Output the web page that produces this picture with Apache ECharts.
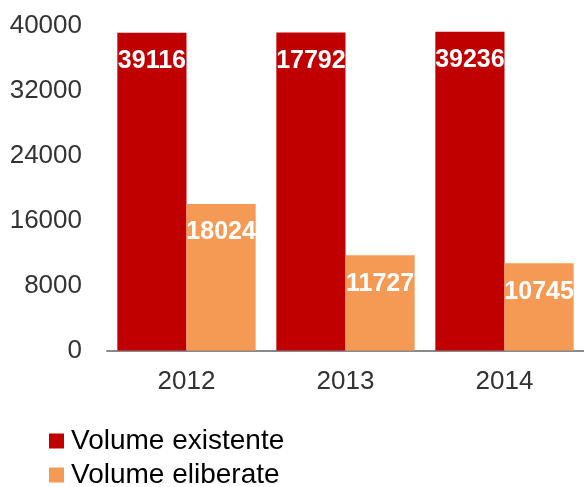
<!DOCTYPE html>
<html>
<head>
<meta charset="utf-8">
<script src="https://cdn.jsdelivr.net/npm/echarts@6/dist/echarts.min.js"></script>
<style>
html,body{margin:0;padding:0;background:#fff;}
#chart{width:584px;height:487px;}
</style>
</head>
<body>
<div id="chart"></div>
<script>
const categories = ['2012', '2013', '2014'];
const existenteValues = [39116, 39150, 39236];
const existenteLabels = ['39116', '17792', '39236'];
const eliberateValues = [18024, 11727, 10745];
const eliberateLabels = ['18024', '11727', '10745'];
const yTicks = [0, 8000, 16000, 24000, 32000, 40000];
const seriesNames = ['Volume existente', 'Volume eliberate'];

const FONT = '"Liberation Sans", Arial, sans-serif';
const chart = echarts.init(document.getElementById('chart'), null, {renderer: 'canvas'});

const labelStyle = (labels) => ({
  show: true,
  position: 'insideTop',
  distance: 16,
  color: '#ffffff',
  fontFamily: FONT,
  fontWeight: 'bold',
  fontSize: 25,
  formatter: (p) => labels[p.dataIndex]
});

const legendStyle = (name, top) => ({
  orient: 'vertical',
  left: 49,
  top: top,
  padding: 0,
  itemWidth: 15,
  itemHeight: 15,
  icon: 'rect',
  textStyle: {fontFamily: FONT, fontSize: 28, color: '#000000', lineHeight: 30, padding: [0, 0, 0, 2]},
  data: [name]
});

chart.setOption({
  animation: false,
  backgroundColor: '#ffffff',
  grid: {left: 107, right: -4, top: 25.5, bottom: 136.5},
  legend: [legendStyle(seriesNames[0], 426), legendStyle(seriesNames[1], 460)],
  xAxis: {
    type: 'category',
    data: categories,
    axisLine: {show: true, lineStyle: {color: '#898989', width: 2}},
    axisTick: {show: false},
    axisLabel: {fontFamily: FONT, fontSize: 26, color: '#333333', margin: 18}
  },
  yAxis: {
    type: 'value',
    min: yTicks[0],
    max: yTicks[yTicks.length - 1],
    interval: 8000,
    axisLine: {show: false},
    axisTick: {show: false},
    splitLine: {show: false},
    axisLabel: {fontFamily: FONT, fontSize: 26, color: '#333333', margin: 25, formatter: (v) => String(v)}
  },
  series: [
    {
      name: seriesNames[0],
      type: 'bar',
      data: existenteValues,
      itemStyle: {color: '#C00000'},
      barGap: '0%',
      barCategoryGap: '13%',
      label: labelStyle(existenteLabels)
    },
    {
      name: seriesNames[1],
      type: 'bar',
      data: eliberateValues,
      itemStyle: {color: '#F59A55'},
      barGap: '0%',
      barCategoryGap: '13%',
      label: labelStyle(eliberateLabels)
    }
  ]
});
</script>
</body>
</html>
